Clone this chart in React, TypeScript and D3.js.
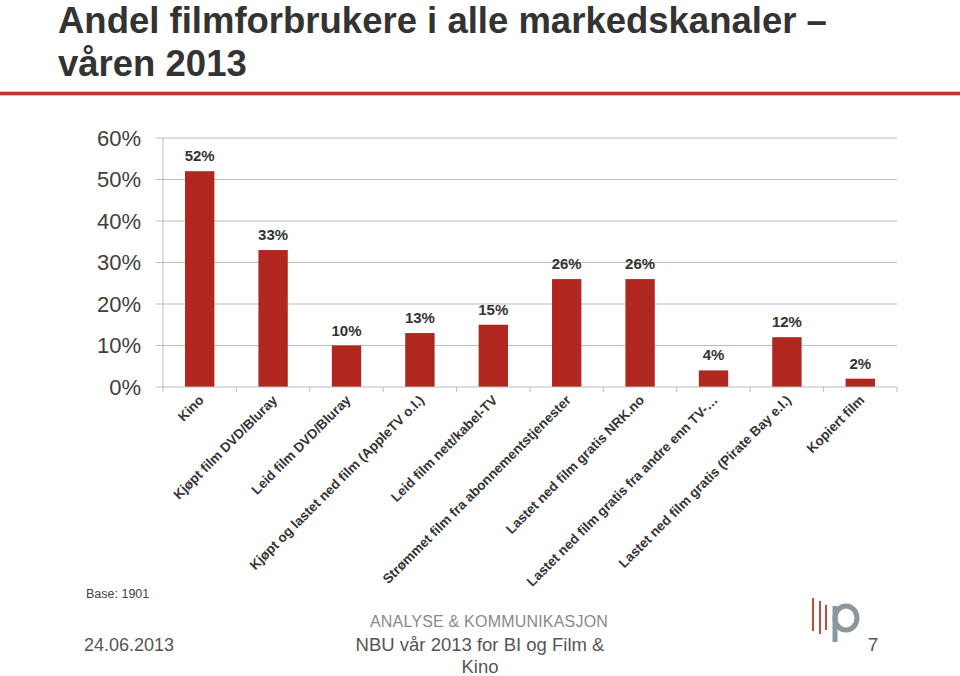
import React from "react";
import * as d3 from "d3";

const categories = [
  "Kino",
  "Kjøpt film DVD/Bluray",
  "Leid film DVD/Bluray",
  "Kjøpt og lastet ned film (AppleTV o.l.)",
  "Leid film nett/kabel-TV",
  "Strømmet film fra abonnementstjenester",
  "Lastet ned film gratis NRK.no",
  "Lastet ned film gratis fra andre enn TV-…",
  "Lastet ned film gratis (Pirate Bay e.l.)",
  "Kopiert film",
];
const values = [52, 33, 10, 13, 15, 26, 26, 4, 12, 2];
const yTicks = [0, 10, 20, 30, 40, 50, 60];
const titleLines = ["Andel filmforbrukere i alle markedskanaler –", "våren 2013"];

const W = 960;
const H = 676;
const plot = { left: 163, right: 897, top: 138, bottom: 387 };
const BAR = "#B0271F";
const FONT = "Arial, 'Liberation Sans', Helvetica, sans-serif";
const NARROW = "'Liberation Sans Narrow', 'Arial Narrow', 'Liberation Sans', Arial, sans-serif";

export default function App() {
  const x = d3
    .scaleBand<string>()
    .domain(categories)
    .range([plot.left, plot.right])
    .paddingInner(0.6)
    .paddingOuter(0.3);
  const y = d3.scaleLinear().domain([0, 60]).range([plot.bottom, plot.top]);
  const step = x.step();
  const boundaries = d3.range(categories.length + 1).map((i) => plot.left + i * step);

  return (
    <div style={{ position: "absolute", left: 0, top: 0 }}>
      <svg width={W} height={H} style={{ display: "block", background: "#fff" }}>
        {/* Title */}
        {titleLines.map((t, i) => (
          <text
            key={i}
            x={58}
            y={33 + i * 43}
            fontFamily={FONT}
            fontWeight="bold"
            fontSize={36.5}
            fill="#333333"
          >
            {t}
          </text>
        ))}
        {/* Red separator */}
        <rect x={0} y={91} width={W} height={5} fill="#E8B9B0" />
        <rect x={0} y={92} width={W} height={3} fill="#BE3A30" />

        {/* Gridlines */}
        {yTicks.slice(1).map((t) => (
          <line
            key={t}
            x1={plot.left - 7}
            x2={plot.right}
            y1={y(t)}
            y2={y(t)}
            stroke="#BDBDBD"
            strokeWidth={1}
          />
        ))}
        {/* Y axis line */}
        <line x1={plot.left} x2={plot.left} y1={plot.top} y2={plot.bottom} stroke="#BDBDBD" />
        {/* Y labels */}
        {yTicks.map((t) => (
          <text
            key={t}
            x={141}
            y={y(t)}
            dy="0.36em"
            textAnchor="end"
            fontFamily={FONT}
            fontSize={22}
            fill="#404040"
          >
            {t}%
          </text>
        ))}

        {/* Bars */}
        {categories.map((c, i) => (
          <rect
            key={c}
            x={x(c)}
            y={y(values[i])}
            width={x.bandwidth()}
            height={plot.bottom - y(values[i])}
            fill={BAR}
          />
        ))}
        {/* Value labels */}
        {categories.map((c, i) => (
          <text
            key={c}
            x={(x(c) as number) + x.bandwidth() / 2}
            y={y(values[i]) - 10}
            textAnchor="middle"
            fontFamily={FONT}
            fontWeight="bold"
            fontSize={15}
            fill="#333333"
          >
            {values[i]}%
          </text>
        ))}

        {/* X axis */}
        <line x1={plot.left - 7} x2={plot.right} y1={plot.bottom} y2={plot.bottom} stroke="#BDBDBD" />
        {boundaries.map((bx, i) => (
          <line key={i} x1={bx} x2={bx} y1={plot.bottom} y2={plot.bottom + 5} stroke="#BDBDBD" />
        ))}
        {/* X labels */}
        {categories.map((c) => {
          const cx = (x(c) as number) + x.bandwidth() / 2 + 5;
          const cy = plot.bottom + 14;
          return (
            <text
              key={c}
              transform={`translate(${cx},${cy}) rotate(-45)`}
              textAnchor="end"
              fontFamily={FONT}
              fontWeight="bold"
              fontSize={13.5}
              fill="#333333"
            >
              {c}
            </text>
          );
        })}

        {/* Footer */}
        <text x={86} y={598} fontFamily={NARROW} fontSize={12.5} fill="#444">
          Base: 1901
        </text>
        <text x={84} y={651} fontFamily={NARROW} fontSize={18} fill="#555">
          24.06.2013
        </text>
        <text
          x={489}
          y={627}
          textAnchor="middle"
          fontFamily={NARROW}
          fontSize={16}
          letterSpacing={0.2}
          fill="#8A8A8A"
        >
          ANALYSE &amp; KOMMUNIKASJON
        </text>
        <text x={480} y={651} textAnchor="middle" fontFamily={NARROW} fontSize={18.5} fill="#555">
          NBU vår 2013 for BI og Film &amp;
        </text>
        <text x={480} y={673} textAnchor="middle" fontFamily={NARROW} fontSize={18.5} fill="#555">
          Kino
        </text>
        <text x={873} y={651} textAnchor="middle" fontFamily={NARROW} fontSize={19} fill="#555">
          7
        </text>
        {/* Logo */}
        <g>
          <line x1={813} x2={813} y1={598} y2={631} stroke="#C8473C" strokeWidth={2} />
          <line x1={820} x2={820} y1={601} y2={634} stroke="#C8473C" strokeWidth={2} />
          <line x1={826} x2={826} y1={605} y2={630} stroke="#C8473C" strokeWidth={2} />
          <line x1={835} x2={835} y1={606} y2={642} stroke="#8A979C" strokeWidth={5} />
          <ellipse cx={846} cy={618} rx={11} ry={12} fill="none" stroke="#8A979C" strokeWidth={5} />
        </g>
      </svg>
    </div>
  );
}
